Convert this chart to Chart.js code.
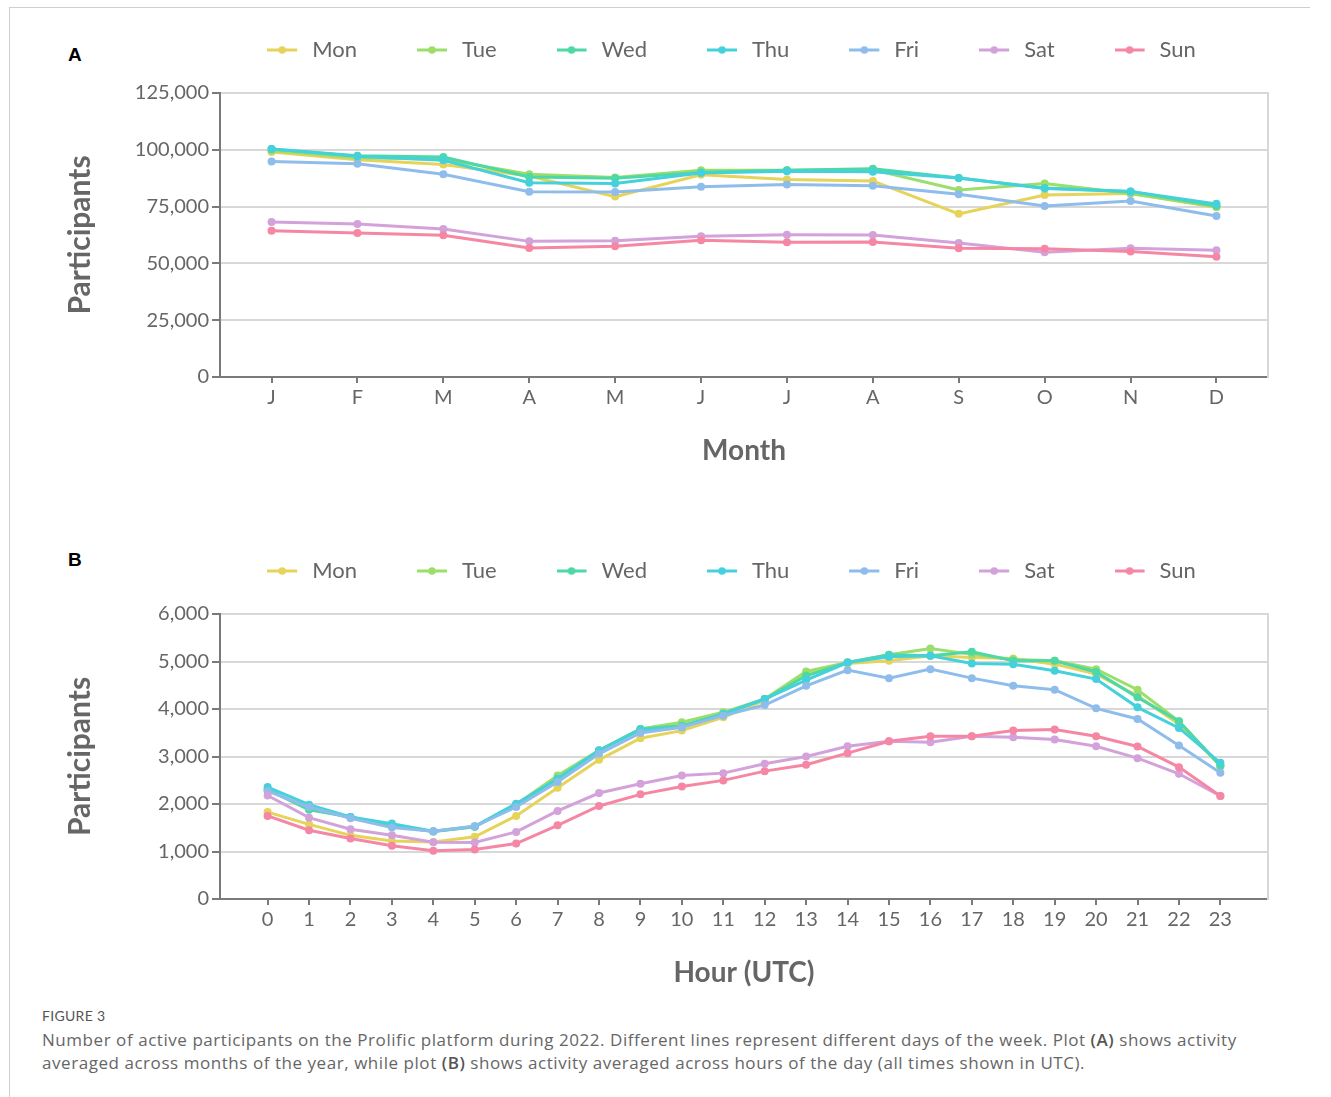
<!DOCTYPE html>
<html>
<head>
<meta charset="utf-8">
<script src="https://cdn.jsdelivr.net/npm/chart.js@4.4.1/dist/chart.umd.min.js"></script>
<style>
  html, body { margin:0; padding:0; width:1331px; height:1097px; overflow:hidden; background:#fff; position:relative; }
  .abs { position:absolute; }
  #frameTop { left:9px; top:7px; width:1301px; height:1px; background:#cfcfcf; }
  #frameLeft { left:9px; top:7px; width:1px; height:1090px; background:#cfcfcf; }
  .panel { font: bold 19px "Liberation Sans", Arial, sans-serif; color:#000; }
  #wrapA { left:0px; top:-21px; width:1463px; height:498px; }
  #wrapB { left:0px; top:500px; width:1463px; height:499px; }
  #figLabel { left:42px; top:1007px; font: 14px Lato, sans-serif; color:#555; letter-spacing:0.3px; }
  #caption { left:42px; top:1028px; width:1280px; font: 17px/23px "Open Sans", sans-serif; color:#666; white-space:nowrap; letter-spacing:0.55px; }
  #caption b { color:#555; font-weight:600; }
</style>
</head>
<body>
<div class="abs" id="frameTop"></div>
<div class="abs" id="frameLeft"></div>
<div class="abs panel" style="left:68px; top:44px;">A</div>
<div class="abs panel" style="left:68px; top:549px;">B</div>
<div class="abs" id="wrapA"><canvas id="chartA" width="1463" height="498"></canvas></div>
<div class="abs" id="wrapB"><canvas id="chartB" width="1463" height="499"></canvas></div>
<div class="abs" id="figLabel">FIGURE 3</div>
<div class="abs" id="caption">Number of active participants on the Prolific platform during 2022. Different lines represent different days of the week. Plot <b>(A)</b> shows activity<br>averaged across months of the year, while plot <b>(B)</b> shows activity averaged across hours of the day (all times shown in UTC).</div>
<script>
// ---------- DATA ----------
const days = ["Mon", "Tue", "Wed", "Thu", "Fri", "Sat", "Sun"];
const months = ["J", "F", "M", "A", "M", "J", "J", "A", "S", "O", "N", "D"];
const hours = ["0","1","2","3","4","5","6","7","8","9","10","11","12","13","14","15","16","17","18","19","20","21","22","23"];

// Panel A: participants by month
const monthMon = [99000, 95600, 93500, 88500, 79400, 89000, 86900, 86300, 71800, 80100, 80800, 74700];
const monthTue = [99700, 96500, 95800, 89200, 87800, 91000, 91000, 91200, 82300, 85200, 80800, 74900];
const monthWed = [100400, 97400, 96800, 88000, 87500, 90000, 91000, 91700, 87600, 83200, 81700, 75300];
const monthThu = [100400, 97200, 95400, 85500, 85200, 89800, 90600, 90300, 87600, 83000, 81700, 76200];
const monthFri = [94900, 93900, 89200, 81500, 81400, 83700, 84700, 84200, 80400, 75300, 77500, 70900];
const monthSat = [68200, 67300, 65100, 59700, 60000, 61900, 62600, 62500, 59000, 54900, 56700, 55800];
const monthSun = [64400, 63400, 62400, 56800, 57600, 60200, 59300, 59400, 56700, 56500, 55200, 52900];

// Panel B: participants by hour (UTC)
const hourMon = [1830, 1570, 1340, 1220, 1200, 1310, 1750, 2340, 2930, 3385, 3545, 3825, 4180, 4740, 4960, 5014, 5120, 5084, 5063, 4944, 4734, 4280, 3680, 2810];
const hourTue = [2300, 1900, 1720, 1540, 1420, 1520, 1990, 2601, 3130, 3580, 3720, 3930, 4210, 4790, 4980, 5140, 5273, 5150, 5040, 5014, 4839, 4406, 3741, 2797];
const hourWed = [2300, 1880, 1727, 1545, 1420, 1520, 1990, 2531, 3126, 3580, 3650, 3895, 4210, 4699, 4979, 5140, 5119, 5203, 5014, 5014, 4780, 4245, 3741, 2811];
const hourThu = [2357, 1986, 1727, 1587, 1427, 1531, 2007, 2531, 3126, 3560, 3615, 3895, 4210, 4608, 4979, 5098, 5119, 4958, 4944, 4804, 4629, 4035, 3601, 2867];
const hourFri = [2270, 1937, 1700, 1503, 1427, 1531, 1937, 2462, 3056, 3497, 3615, 3860, 4084, 4489, 4818, 4650, 4839, 4650, 4489, 4406, 4014, 3790, 3231, 2657];
const hourSat = [2180, 1713, 1469, 1343, 1196, 1189, 1413, 1853, 2231, 2427, 2601, 2650, 2846, 3000, 3217, 3322, 3301, 3427, 3406, 3357, 3217, 2965, 2636, 2168];
const hourSun = [1750, 1448, 1273, 1119, 1014, 1042, 1168, 1552, 1958, 2203, 2370, 2497, 2692, 2825, 3070, 3322, 3427, 3427, 3545, 3566, 3427, 3210, 2776, 2168];

const yTicksA = [0, 25000, 50000, 75000, 100000, 125000];
const yTicksB = [0, 1000, 2000, 3000, 4000, 5000, 6000];

// ---------- STYLE ----------
const colors = ["#e6d35a", "#9ade6c", "#4dd8a6", "#45d1db", "#8fbdeb", "#d3a2db", "#f587a4"];
const textColor = "#666";
const axisColor = "#7a7a7a";
const gridColor = "#d8d8d8";

Chart.defaults.font.family = "Lato, 'Open Sans', sans-serif";
Chart.defaults.color = textColor;

function legendImage(color) {
  const c = document.createElement("canvas");
  c.width = 34; c.height = 14;
  const g = c.getContext("2d");
  g.strokeStyle = color; g.lineWidth = 3;
  g.beginPath(); g.moveTo(0, 7); g.lineTo(30, 7); g.stroke();
  g.fillStyle = color;
  g.beginPath(); g.arc(15, 7, 3.8, 0, Math.PI * 2); g.fill();
  return c;
}
const legendImgs = colors.map(legendImage);

function buildChart(canvasId, cats, seriesList, yTicks, xTitle, xMin, xMax) {
  const datasets = seriesList.map((vals, i) => ({
    label: days[i],
    data: vals.map((v, j) => ({ x: j, y: v })),
    borderColor: colors[i],
    backgroundColor: colors[i],
    pointBackgroundColor: colors[i],
    pointBorderWidth: 0,
    pointRadius: 4,
    pointHoverRadius: 4,
    borderWidth: 3,
    tension: 0,
    order: seriesList.length - i
  }));
  return new Chart(document.getElementById(canvasId), {
    type: "line",
    data: { datasets },
    options: {
      responsive: false,
      animation: false,
      locale: "en-US",
      layout: { padding: 0 },
      plugins: {
        tooltip: { enabled: false },
        legend: {
          display: true,
          position: "top",
          align: "center",
          labels: {
            usePointStyle: true,
            pointStyleWidth: 34,
            padding: 60,
            color: textColor,
            font: { size: 22 },
            generateLabels: (chart) => chart.data.datasets.map((ds, i) => ({
              text: ds.label,
              pointStyle: legendImgs[i],
              fillStyle: colors[i],
              strokeStyle: colors[i],
              lineWidth: 0,
              fontColor: textColor,
              hidden: false,
              datasetIndex: i
            }))
          }
        },
        title: {
          display: true,
          text: "",
          weight: 500,
          position: "top",
          padding: 0,
          font: { size: 22, lineHeight: 1 }
        }
      },
      scales: {
        x: {
          type: "linear",
          min: xMin,
          max: xMax,
          afterBuildTicks: (s) => { s.ticks = cats.map((_, i) => ({ value: i })); },
          afterFit: (s) => { s.height = 100; },
          ticks: {
            callback: (v) => cats[v],
            autoSkip: false,
            maxRotation: 0,
            color: textColor,
            font: { size: 20 },
            padding: 3
          },
          grid: { drawOnChartArea: false, tickLength: 6, tickColor: axisColor, lineWidth: 2 },
          border: { color: axisColor, width: 2 },
          title: {
            display: true,
            text: xTitle,
            color: textColor,
            font: { size: 28, weight: "bold" },
            padding: { top: 0, bottom: 9 }
          }
        },
        y: {
          type: "linear",
          position: "left",
          min: yTicks[0],
          max: yTicks[yTicks.length - 1],
          afterBuildTicks: (s) => { s.ticks = yTicks.map(v => ({ value: v })); },
          afterFit: (s) => { s.width = 220; },
          ticks: {
            color: textColor,
            font: { size: 20 },
            padding: 3,
            callback: (v) => v.toLocaleString("en-US")
          },
          grid: { color: gridColor, lineWidth: 2, tickColor: axisColor, tickLength: 8 },
          border: { color: axisColor, width: 2 },
          title: {
            display: true,
            text: "Participants",
            color: textColor,
            font: { size: 30, weight: "bold" },
            padding: { top: 62, bottom: 0 }
          }
        },
        y2: {
          type: "linear",
          position: "right",
          display: true,
          afterFit: (s) => { s.width = 195; },
          ticks: { display: false },
          grid: { drawOnChartArea: false, drawTicks: false },
          border: { color: gridColor, width: 2 }
        }
      }
    }
  });
}

const chartA = buildChart("chartA", months,
  [monthMon, monthTue, monthWed, monthThu, monthFri, monthSat, monthSun],
  yTicksA, "Month", -0.6, 11.6);
const chartB = buildChart("chartB", hours,
  [hourMon, hourTue, hourWed, hourThu, hourFri, hourSat, hourSun],
  yTicksB, "Hour (UTC)", -1.15, 24.15);
</script>
</body>
</html>
